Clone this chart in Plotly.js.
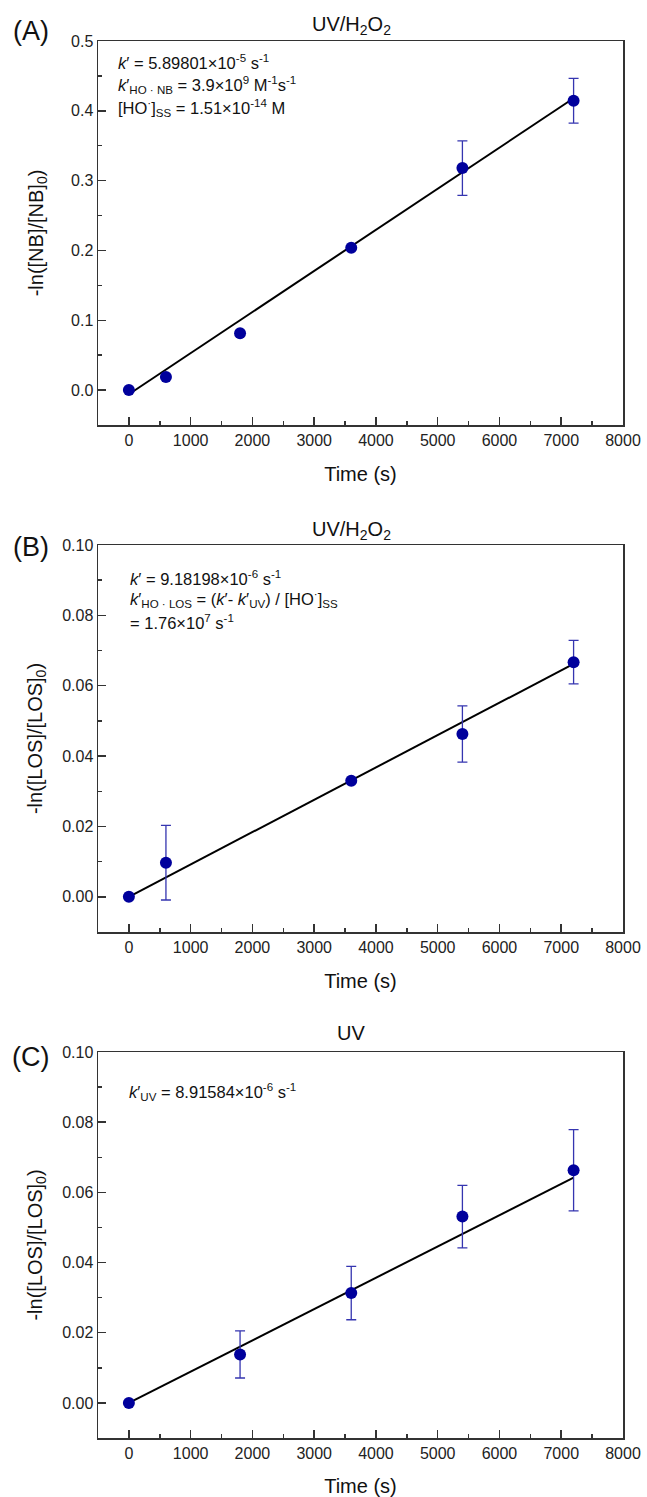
<!DOCTYPE html>
<html>
<head>
<meta charset="utf-8">
<script src="https://cdn.plot.ly/plotly-3.0.1.min.js"></script>
<style>html,body{margin:0;padding:0;background:#fff;}#chart{width:647px;height:1497px;}</style>
</head>
<body>
<div id="chart"></div>
<script>
// ---- Data ----
const timeA = [0, 600, 1800, 3600, 5400, 7200];
const nbA = [0, 0.0186, 0.0815, 0.204, 0.318, 0.4145];
const nbErrA = [0, 0, 0, 0, 0.039, 0.032];
const fitTimeA = [0, 7200];
const fitA = [-0.006, 0.418];

const timeB = [0, 600, 3600, 5400, 7200];
const losB = [0, 0.0097, 0.033, 0.0463, 0.0667];
const losErrB = [0, 0.0106, 0.0005, 0.008, 0.0062];
const fitTimeB = [0, 7200];
const fitB = [0, 0.0662];

const timeC = [0, 1800, 3600, 5400, 7200];
const losC = [0, 0.0138, 0.0313, 0.0531, 0.0663];
const losErrC = [0, 0.0067, 0.0076, 0.0089, 0.0116];
const fitTimeC = [0, 7200];
const fitC = [0, 0.0642];

const titles = ['UV/H<sub>2</sub>O<sub>2</sub>', 'UV/H<sub>2</sub>O<sub>2</sub>', 'UV'];
const panelLabels = ['(A)', '(B)', '(C)'];
const yTitles = ['-ln([NB]/[NB]<sub>0</sub>)', '-ln([LOS]/[LOS]<sub>0</sub>)', '-ln([LOS]/[LOS]<sub>0</sub>)'];
const xTitle = 'Time (s)';
const textA = [
  '<i>k</i>′ = 5.89801×10<sup>-5</sup> s<sup>-1</sup>',
  '<i>k</i>′<sub>HO · NB</sub> = 3.9×10<sup>9</sup> M<sup>-1</sup>s<sup>-1</sup>',
  '[HO<sup>·</sup>]<sub>SS</sub> = 1.51×10<sup>-14</sup> M'
];
const textB = [
  '<i>k</i>′ = 9.18198×10<sup>-6</sup> s<sup>-1</sup>',
  '<i>k</i>′<sub>HO · LOS</sub> = (<i>k</i>′- <i>k</i>′<sub>UV</sub>) / [HO<sup>·</sup>]<sub>SS</sub>',
  '= 1.76×10<sup>7</sup> s<sup>-1</sup>'
];
const textC = [
  '<i>k</i>′<sub>UV</sub> = 8.91584×10<sup>-6</sup> s<sup>-1</sup>'
];

// ---- Layout geometry (pixels) ----
const W = 647, H = 1497;
const plotLeft = 98, plotRight = 623;
const panels = [
  {top: 41, bottom: 425},
  {top: 545, bottom: 932},
  {top: 1052, bottom: 1438}
];
const px = x => x / W;
const py = y => 1 - y / H;

const FONT = 'Liberation Sans, Arial, Helvetica, sans-serif';
const axisColor = '#333';
const markerColor = '#00009c';
const errColor = '#3535b0';

function xAxis(anchor) {
  return {
    domain: [px(plotLeft), px(plotRight)],
    anchor: anchor,
    range: [-500, 8000],
    tick0: 0, dtick: 1000,
    ticks: 'inside', ticklen: 8, tickwidth: 1.5, tickcolor: axisColor,
    minor: {dtick: 500, ticks: 'inside', ticklen: 4, tickwidth: 1.5, tickcolor: axisColor, showgrid: false},
    showline: true, mirror: true, linecolor: axisColor, linewidth: 1.5,
    showgrid: false, zeroline: false,
    tickfont: {family: FONT, size: 16, color: '#222'},
    title: {text: xTitle, font: {family: FONT, size: 20, color: '#111'}, standoff: 19}
  };
}
function yAxis(anchor, p, range, dtick, fmt, title, standoff) {
  return {
    domain: [py(p.bottom), py(p.top)],
    anchor: anchor,
    range: range,
    tick0: 0, dtick: dtick, tickformat: fmt,
    ticks: 'inside', ticklen: 8, tickwidth: 1.5, tickcolor: axisColor,
    minor: {dtick: dtick / 2, ticks: 'inside', ticklen: 4, tickwidth: 1.5, tickcolor: axisColor, showgrid: false},
    showline: true, mirror: true, linecolor: axisColor, linewidth: 1.5,
    showgrid: false, zeroline: false,
    tickfont: {family: FONT, size: 16, color: '#222'},
    title: {text: title, font: {family: FONT, size: 20, color: '#111'}, standoff: standoff}
  };
}

function pts(x, y, err, xa, ya) {
  return {
    x: x, y: y, type: 'scatter', mode: 'markers', xaxis: xa, yaxis: ya,
    marker: {color: markerColor, size: 12},
    error_y: {type: 'data', array: err, visible: true, color: errColor, thickness: 1.3, width: 5},
    hoverinfo: 'x+y'
  };
}
function fit(x, y, xa, ya) {
  return {x: x, y: y, type: 'scatter', mode: 'lines', xaxis: xa, yaxis: ya,
    line: {color: '#000', width: 2}, hoverinfo: 'skip'};
}

const data = [
  fit(fitTimeA, fitA, 'x', 'y'),
  pts(timeA, nbA, nbErrA, 'x', 'y'),
  fit(fitTimeB, fitB, 'x2', 'y2'),
  pts(timeB, losB, losErrB, 'x2', 'y2'),
  fit(fitTimeC, fitC, 'x3', 'y3'),
  pts(timeC, losC, losErrC, 'x3', 'y3')
];

const annotations = [];
const titleY = [25, 530, 1033];
const labelY = [31, 547, 1057];
for (let i = 0; i < 3; i++) {
  annotations.push({xref: 'paper', yref: 'paper', x: px(351), y: py(titleY[i]),
    xanchor: 'center', yanchor: 'middle', showarrow: false, text: titles[i],
    font: {family: FONT, size: 20, color: '#111'}});
  annotations.push({xref: 'paper', yref: 'paper', x: px(31), y: py(labelY[i]),
    xanchor: 'center', yanchor: 'middle', showarrow: false, text: panelLabels[i],
    font: {family: FONT, size: 27, color: '#111'}});
}
function addLines(lines, xa, ya, xPix, yPixs, p) {
  lines.forEach((t, i) => {
    annotations.push({xref: xa + ' domain', yref: ya + ' domain',
      x: (xPix - plotLeft) / (plotRight - plotLeft),
      y: (p.bottom - yPixs[i]) / (p.bottom - p.top),
      xanchor: 'left', yanchor: 'middle', showarrow: false, text: t, align: 'left',
      font: {family: FONT, size: 16.5, color: '#111'}});
  });
}
addLines(textA, 'x', 'y', 116, [62, 85, 108], panels[0]);
addLines(textB, 'x2', 'y2', 128, [578, 599, 622], panels[1]);
addLines(textC, 'x3', 'y3', 127, [1092], panels[2]);

const layout = {
  width: W, height: H,
  margin: {l: 0, r: 0, t: 0, b: 0},
  paper_bgcolor: '#fff', plot_bgcolor: '#fff',
  showlegend: false,
  font: {family: FONT, color: '#222'},
  xaxis: xAxis('y'),
  xaxis2: xAxis('y2'),
  xaxis3: xAxis('y3'),
  yaxis: yAxis('x', panels[0], [-0.05, 0.5], 0.1, '.1f', yTitles[0], 22),
  yaxis2: yAxis('x2', panels[1], [-0.01, 0.10], 0.02, '.2f', yTitles[1], 14),
  yaxis3: yAxis('x3', panels[2], [-0.01, 0.10], 0.02, '.2f', yTitles[2], 14),
  annotations: annotations
};

Plotly.newPlot('chart', data, layout, {displayModeBar: false, staticPlot: true});
</script>
</body>
</html>
